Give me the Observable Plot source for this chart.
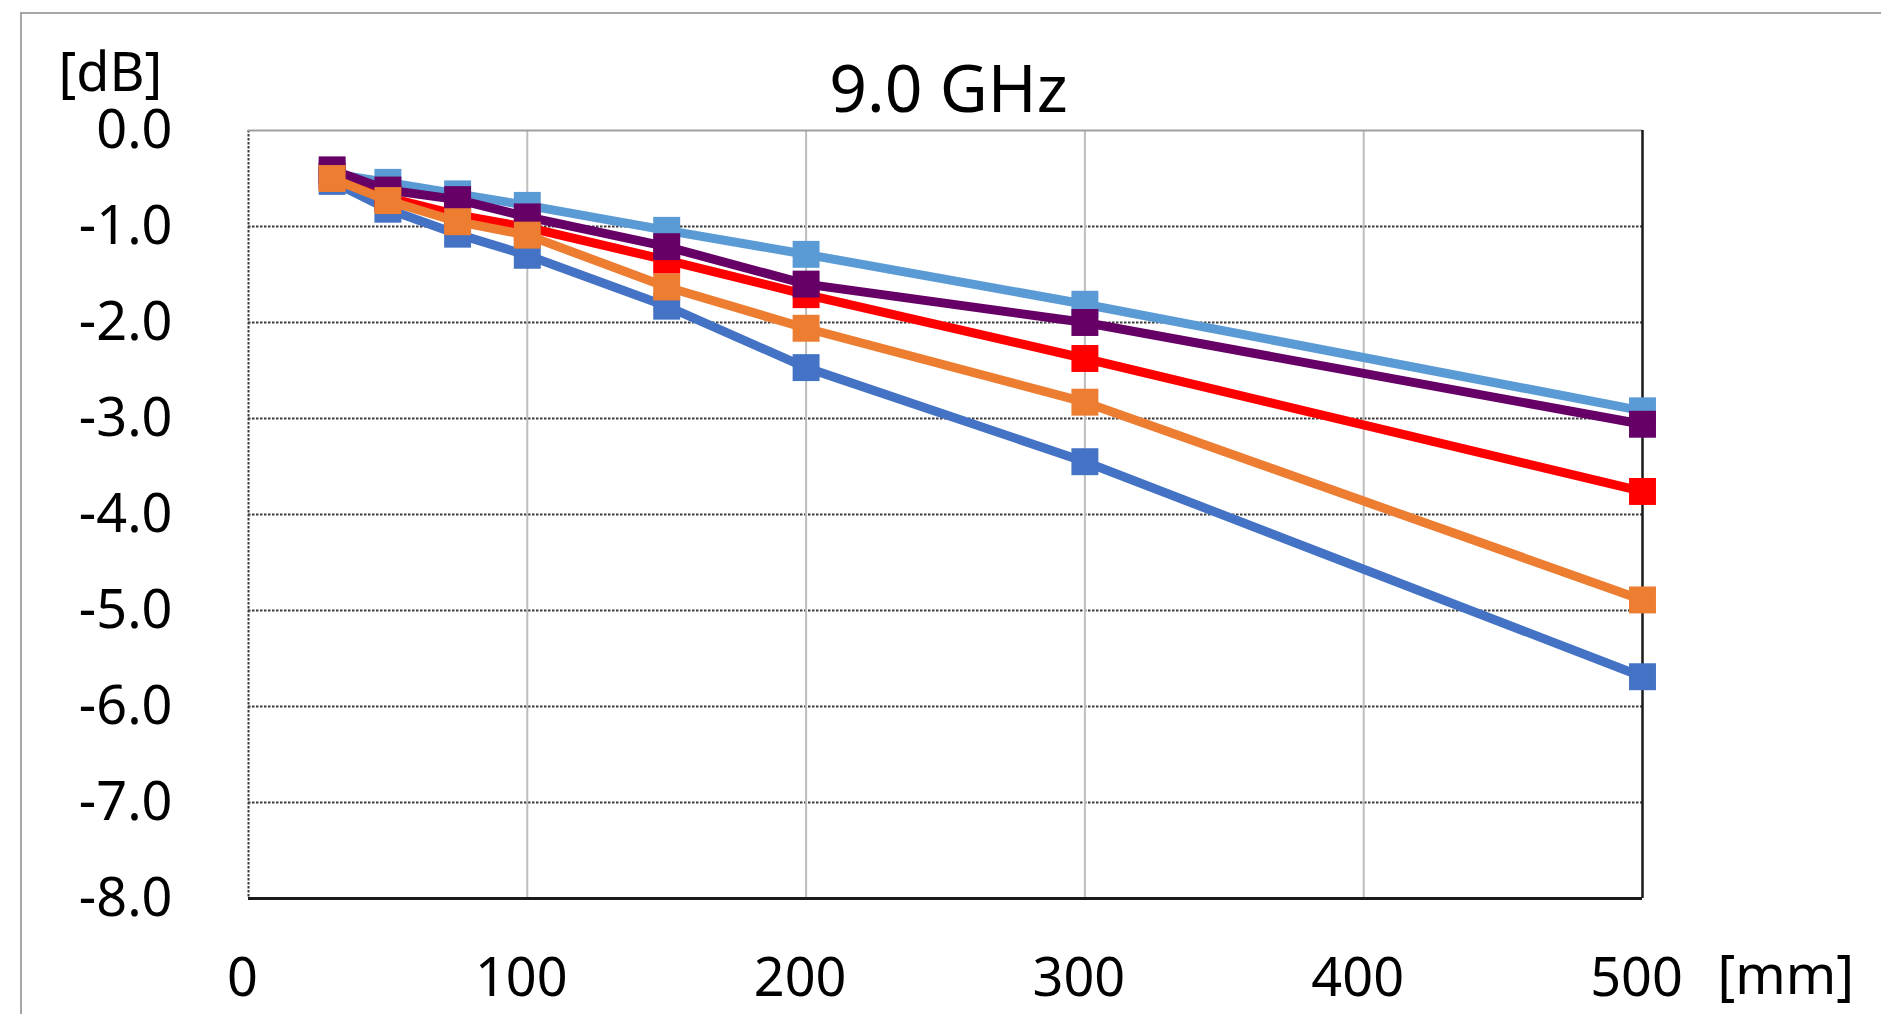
<!DOCTYPE html>
<html><head><meta charset="utf-8">
<script src="https://cdn.jsdelivr.net/npm/d3@7"></script>
<script src="https://cdn.jsdelivr.net/npm/@observablehq/plot@0.6"></script>
<style>
html,body{margin:0;padding:0;background:#fff;overflow:hidden;width:1881px;height:1014px;}
#border{position:absolute;left:20px;top:12px;width:2000px;height:1200px;border:2px solid #a6a6a6;box-sizing:border-box;}
#chart{position:absolute;left:0;top:0;}
</style></head><body><div id="border"></div><div id="chart"></div>
<script>
// ---- data ----
const distances = [30, 50, 75, 100, 150, 200, 300, 500];
const seriesNames = ["S1", "S2", "S3", "S4", "S5"];
const s1 = [-0.53, -0.82, -1.08, -1.30, -1.83, -2.47, -3.45, -5.69];
const s2 = [-0.45, -0.54, -0.66, -0.78, -1.04, -1.29, -1.81, -2.92];
const s3 = [-0.48, -0.70, -0.88, -1.01, -1.35, -1.71, -2.375, -3.76];
const s4 = [-0.41, -0.62, -0.72, -0.90, -1.21, -1.60, -2.00, -3.06];
const s5 = [-0.50, -0.73, -0.95, -1.09, -1.63, -2.06, -2.83, -4.89];
const xTicks = [0, 100, 200, 300, 400, 500];
const yTicks = [0, -1, -2, -3, -4, -5, -6, -7, -8];
const titleText = "9.0 GHz";
const yUnit = "[dB]";
const xUnit = "[mm]";

// ---- styles ----
const seriesColors = ["#4472C4", "#5B9BD5", "#FF0000", "#660066", "#ED7D31"];
const allValues = [s1, s2, s3, s4, s5];

const rows = [];
allValues.forEach((vals, si) => vals.forEach((v, i) => rows.push({series: seriesNames[si], d: distances[i], v})));

const font = "'Noto Sans', 'Open Sans', sans-serif";
const marks = [
  Plot.gridY(yTicks.filter(t => t !== 0 && t !== -8), {stroke: "#3a3a3a", strokeOpacity: 1, strokeWidth: 2, strokeDasharray: "2.5,1.5"}),
  Plot.gridX(xTicks.filter(t => t !== 0 && t !== 500), {stroke: "#bdbdbd", strokeOpacity: 1, strokeWidth: 2}),
  Plot.ruleX([0], {stroke: "#3a3a3a", strokeWidth: 2, strokeDasharray: "2.5,1.5"}),
  Plot.ruleY([0], {stroke: "#a0a0a0", strokeWidth: 2}),
  Plot.ruleX([500], {stroke: "#1a1a1a", strokeWidth: 2.5}),
  Plot.ruleY([-8], {stroke: "#1a1a1a", strokeWidth: 3}),
  Plot.axisX({ticks: xTicks, tickSize: 0, tickPadding: 59, fontSize: 54, label: null, dx: -6, tickFormat: d => String(d)}),
  Plot.axisY({ticks: yTicks, tickSize: 0, tickPadding: 76, fontSize: 54, label: null, tickFormat: d => d.toFixed(1)}),
];
seriesNames.forEach((name, si) => {
  const sub = rows.filter(r => r.series === name);
  marks.push(Plot.line(sub, {x: "d", y: "v", stroke: seriesColors[si], strokeWidth: 9, strokeLinejoin: "round"}));
  marks.push(Plot.dot(sub, {x: "d", y: "v", fill: seriesColors[si], symbol: "square", r: 15.2, stroke: "none"}));
});
marks.push(
  Plot.text([titleText], {frameAnchor: "top", dx: 3, dy: -40, fontSize: 66, fill: "#000", lineAnchor: "middle"}),
  Plot.text([yUnit], {frameAnchor: "top-left", textAnchor: "start", dx: -190, dy: -57, fontSize: 54, fill: "#000", lineAnchor: "middle"}),
  Plot.text([xUnit], {frameAnchor: "bottom-right", textAnchor: "start", dx: 75, dy: 78, fontSize: 54, fill: "#000", lineAnchor: "middle"})
);

const chart = Plot.plot({
  width: 1881, height: 1014,
  marginLeft: 248, marginRight: 239, marginTop: 130, marginBottom: 116,
  style: {fontFamily: font, color: "#000", background: "transparent", overflow: "visible"},
  x: {domain: [0, 500], axis: null},
  y: {domain: [-8, 0], axis: null},
  marks
});
document.getElementById("chart").appendChild(chart);
</script></body></html>
